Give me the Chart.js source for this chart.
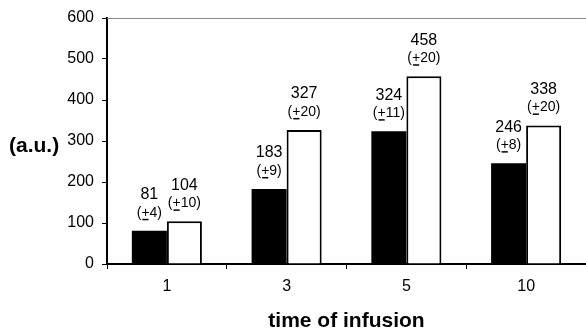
<!DOCTYPE html>
<html>
<head>
<meta charset="utf-8">
<script src="https://cdn.jsdelivr.net/npm/chart.js@4"></script>
<style>
    html, body { margin: 0; padding: 0; background: #fff; }
    #wrap { width: 586px; height: 330px; position: relative; }
</style>
</head>
<body>
<div id="wrap"><canvas id="infusionChart"></canvas></div>
<script>
// Data
const categories = ['1', '3', '5', '10'];
const blackValues = [81, 183, 324, 246];
const blackErrors = [4, 9, 11, 8];
const whiteValues = [104, 327, 458, 338];
const whiteErrors = [10, 20, 20, 20];
const yTicks = [0, 100, 200, 300, 400, 500, 600];

const FONT = "'Liberation Sans', Arial, sans-serif";
Chart.defaults.font.family = FONT;
Chart.defaults.font.size = 16;
Chart.defaults.color = '#000';

// draws "(+N)" with the plus underlined, centred on x
function drawErr(ctx, x, y, err) {
    const open = '(', plus = '+', rest = err + ')';
    const wOpen = ctx.measureText(open).width;
    const wPlus = ctx.measureText(plus).width;
    const wRest = ctx.measureText(rest).width;
    let left = x - (wOpen + wPlus + wRest) / 2;
    ctx.textAlign = 'left';
    ctx.fillText(open, left, y);
    ctx.fillText(plus, left + wOpen, y);
    ctx.fillRect(left + wOpen + 1, y + 6, wPlus - 2, 1.5);
    ctx.fillText(rest, left + wOpen + wPlus, y);
}

const labelsPlugin = {
    id: 'labelsPlugin',
    afterDraw(chart) {
        const ctx = chart.ctx;
        const area = chart.chartArea;
        ctx.save();

        // thin grey top line
        ctx.strokeStyle = '#888';
        ctx.lineWidth = 1;
        ctx.beginPath();
        ctx.moveTo(area.left, area.top + 0.5);
        ctx.lineTo(area.right, area.top + 0.5);
        ctx.stroke();

        // value labels above bars
        ctx.fillStyle = '#000';
        ctx.textBaseline = 'middle';
        const errs = [blackErrors, whiteErrors];
        chart.data.datasets.forEach((ds, di) => {
            chart.getDatasetMeta(di).data.forEach((bar, i) => {
                ctx.font = '16px ' + FONT;
                ctx.textAlign = 'center';
                ctx.fillText(String(ds.data[i]), bar.x, bar.y - 36);
                ctx.font = '14px ' + FONT;
                drawErr(ctx, bar.x, bar.y - 18, errs[di][i]);
            });
        });

        // axis titles
        ctx.font = 'bold 21px ' + FONT;
        ctx.textAlign = 'left';
        ctx.textBaseline = 'middle';
        ctx.fillText('(a.u.)', 9, 146);
        ctx.textAlign = 'center';
        ctx.textBaseline = 'alphabetic';
        ctx.fillText('time of infusion', (area.left + area.right) / 2, 327);
        ctx.restore();
    }
};

new Chart(document.getElementById('infusionChart'), {
    type: 'bar',
    data: {
        labels: categories,
        datasets: [
            {
                data: blackValues,
                backgroundColor: '#000',
                borderWidth: 0
            },
            {
                data: whiteValues,
                backgroundColor: '#fff',
                borderColor: '#000',
                borderWidth: 2,
                borderSkipped: 'bottom'
            }
        ]
    },
    options: {
        responsive: true,
        maintainAspectRatio: false,
        animation: false,
        layout: { padding: { top: 18, left: 0, right: 0, bottom: 0 } },
        plugins: { legend: { display: false }, tooltip: { enabled: false } },
        datasets: { bar: { categoryPercentage: 0.585, barPercentage: 1 } },
        scales: {
            x: {
                afterFit: s => { s.height = 66; },
                grid: { offset: true, drawOnChartArea: false, tickLength: 5, color: '#000' },
                border: { color: '#000', width: 2 },
                ticks: { color: '#000', padding: 8, font: { size: 16 } }
            },
            y: {
                min: 0,
                max: 600,
                afterFit: s => { s.width = 107; },
                afterBuildTicks: s => { s.ticks = yTicks.map(v => ({ value: v })); },
                grid: { drawOnChartArea: false, tickLength: 5, color: '#000' },
                border: { color: '#000', width: 2 },
                ticks: { color: '#000', padding: 8, font: { size: 16 } }
            }
        }
    },
    plugins: [labelsPlugin]
});
</script>
</body>
</html>
